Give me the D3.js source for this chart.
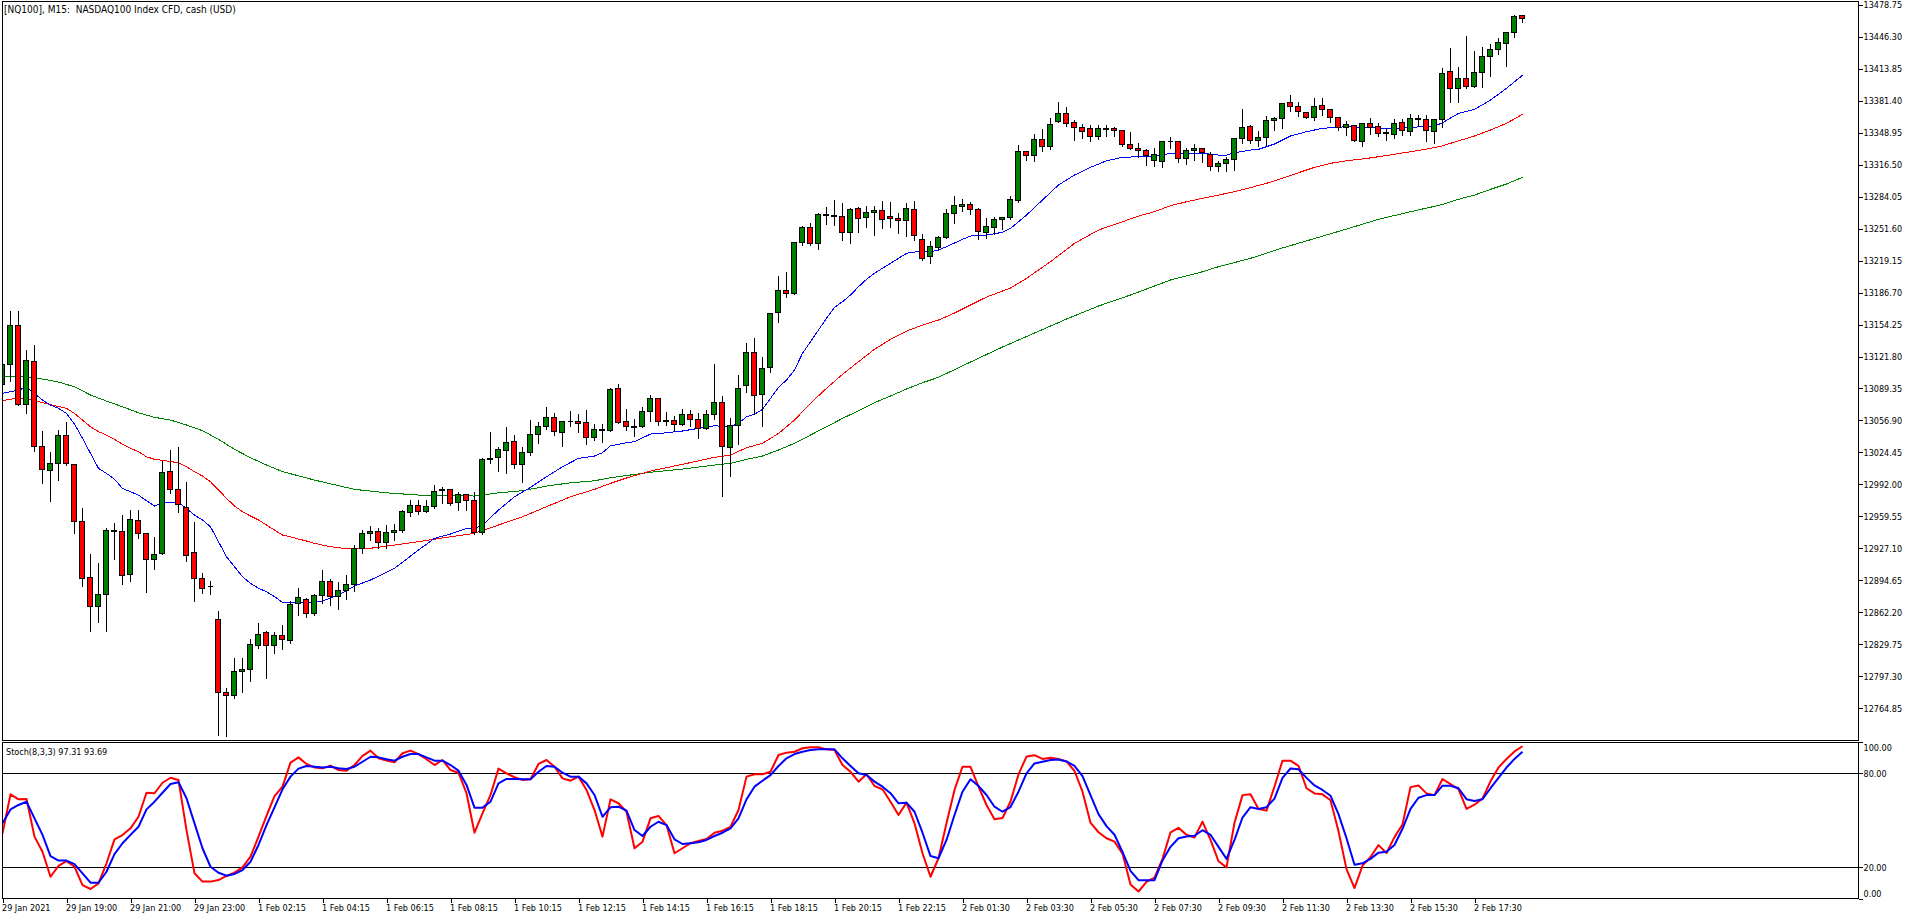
<!DOCTYPE html>
<html>
<head>
<meta charset="utf-8">
<script src="https://cdn.jsdelivr.net/npm/d3@7"></script>
<style>
	html,body{margin:0;padding:0;background:#fff;}
	svg{display:block;}
	text{font-family:'DejaVu Sans Condensed','Liberation Sans',sans-serif;font-size:9px;fill:#000;white-space:pre;}
</style>
</head>
<body>
<svg id="chart" width="1916" height="919"></svg>
<script>
const title = '[NQ100], M15:  NASDAQ100 Index CFD, cash (USD)';
const stochTitle = 'Stoch(8,3,3) 97.31 93.69';

// [open, high, low, close] per 15 min bar
const candles = [
	[13093.6,13123.3,13087.8,13113.8],[13113.8,13168.9,13097.9,13153.7],[13153.7,13168.9,13073.3,13073.3],[13073.3,13129.4,13065.1,13117.9],
	[13117.2,13134.4,13026.2,13030.9],[13030.9,13047.2,12994.1,13007.3],[13006.3,13025.9,12975.4,13013.7],[13013.7,13047.9,12997.2,13042.1],
	[13042.1,13056.0,13012.7,13013.7],[13012.7,13012.7,12943.0,12954.5],[12954.5,12969.0,12889.2,12897.0],[12897.7,12922.4,12843.5,12868.3],
	[12868.3,12913.2,12852.7,12880.8],[12880.5,12948.5,12843.5,12945.4],[12944.4,12953.5,12916.6,12945.7],[12944.7,12961.9,12891.2,12899.7],
	[12900.8,12967.0,12894.3,12956.6],[12955.9,12967.0,12938.0,12942.4],[12942.4,12942.4,12883.1,12916.0],[12916.0,12939.6,12906.4,12921.4],
	[12922.1,13016.7,12922.1,13004.3],[13005.3,13027.6,12984.3,12986.6],[12987.0,13030.9,12964.3,12971.8],[12969.0,12995.4,12915.0,12920.1],
	[12923.1,12954.8,12874.0,12896.7],[12896.7,12902.8,12882.5,12886.6],[12888.4,12894.7,12881.1,12888.2],[12855.1,12864.5,12738.7,12781.0],
	[12781.0,12786.4,12737.7,12778.0],[12778.0,12816.8,12775.5,12802.6],[12801.9,12816.8,12781.6,12804.7],[12804.3,12835.8,12793.5,12829.7],
	[12828.3,12851.6,12826.3,12840.2],[12841.5,12843.5,12795.9,12828.3],[12828.3,12842.5,12821.2,12839.2],[12839.2,12850.3,12825.3,12834.4],
	[12834.1,12874.0,12832.1,12870.6],[12871.3,12887.9,12860.2,12877.4],[12875.4,12877.4,12858.2,12861.2],[12861.2,12881.5,12859.8,12879.5],
	[12879.5,12905.8,12872.0,12894.0],[12894.0,12896.7,12870.0,12878.0],[12878.0,12893.0,12866.0,12884.0],[12884.0,12901.0,12876.0,12890.5],
	[12890.9,12931.2,12884.8,12927.1],[12926.7,12946.7,12922.6,12942.4],[12942.4,12950.5,12935.9,12944.4],[12944.4,12948.8,12927.8,12932.8],
	[12932.8,12951.8,12927.8,12943.4],[12943.4,12952.5,12935.9,12945.7],[12945.7,12966.7,12944.0,12965.0],[12963.7,12976.2,12960.2,12970.8],
	[12970.8,12976.2,12963.0,12964.3],[12964.3,12977.2,12964.3,12969.8],[12969.4,12992.4,12968.4,12985.0],[12985.6,12990.3,12974.1,12987.0],
	[12987.0,12988.0,12971.8,12972.8],[12973.8,12985.0,12967.0,12981.9],[12981.9,12983.0,12967.0,12975.9],[12975.9,12985.0,12942.4,12943.0],
	[12943.0,13019.5,12942.4,13017.5],[13017.5,13045.2,13014.0,13018.5],[13019.5,13030.2,13006.6,13027.2],[13026.6,13051.2,13003.9,13034.7],
	[13035.7,13043.1,13008.9,13012.4],[13012.4,13030.9,12995.4,13024.6],[13024.2,13058.3,13022.5,13042.8],[13042.8,13056.3,13035.0,13051.2],
	[13051.2,13071.5,13048.9,13060.4],[13060.4,13065.1,13042.8,13045.9],[13044.9,13057.3,13031.2,13056.0],[13056.3,13067.5,13051.9,13055.6],
	[13056.3,13064.4,13046.2,13054.0],[13055.0,13068.5,13033.3,13039.8],[13039.8,13054.0,13037.3,13047.9],[13047.9,13054.0,13035.3,13046.9],
	[13046.9,13090.8,13046.9,13088.5],[13089.5,13094.9,13055.0,13055.0],[13056.0,13069.2,13047.9,13050.9],[13050.9,13059.0,13041.4,13050.2],
	[13050.9,13071.2,13050.9,13066.2],[13066.2,13083.7,13056.6,13079.3],[13079.3,13080.4,13053.0,13056.0],[13056.0,13066.2,13053.0,13057.3],
	[13057.0,13062.1,13047.2,13053.0],[13053.0,13069.2,13053.0,13063.1],[13063.1,13068.5,13051.6,13058.0],[13058.0,13065.1,13039.8,13048.9],
	[13048.9,13068.5,13048.9,13063.1],[13063.1,13114.2,13059.0,13075.3],[13075.3,13082.7,12980.5,13030.6],[13029.6,13060.1,13000.8,13051.9],
	[13051.9,13104.0,13033.7,13089.5],[13092.1,13136.5,13086.1,13126.0],[13126.0,13141.5,13064.1,13082.4],[13083.4,13121.3,13051.9,13109.8],
	[13110.8,13166.6,13106.3,13165.6],[13166.6,13204.2,13157.1,13189.0],[13189.0,13208.5,13182.4,13185.9],[13185.9,13237.6,13185.9,13237.6],
	[13237.6,13255.2,13235.6,13252.9],[13252.9,13258.2,13235.6,13236.6],[13236.6,13268.4,13231.1,13266.1],[13266.1,13273.5,13256.9,13265.1],
	[13265.1,13281.6,13255.5,13264.0],[13264.0,13278.2,13240.3,13247.8],[13247.8,13273.2,13237.2,13271.1],[13272.1,13273.8,13248.4,13262.0],
	[13263.0,13275.2,13253.5,13268.1],[13268.1,13275.2,13245.4,13270.1],[13270.1,13280.3,13252.5,13261.0],[13264.0,13279.2,13253.5,13262.0],
	[13262.0,13268.1,13247.4,13260.0],[13260.0,13277.8,13244.3,13272.1],[13271.1,13280.3,13240.7,13244.7],[13240.7,13246.8,13220.0,13221.4],
	[13223.4,13239.0,13217.3,13233.6],[13232.6,13244.7,13231.6,13242.7],[13242.3,13272.4,13242.3,13267.1],[13267.1,13285.6,13257.5,13275.2],
	[13274.2,13282.6,13269.7,13276.2],[13276.2,13279.2,13266.7,13271.1],[13271.4,13273.2,13241.3,13248.4],[13247.4,13263.3,13243.0,13253.2],
	[13252.5,13264.3,13246.8,13261.3],[13261.0,13263.6,13251.4,13263.3],[13263.3,13285.3,13262.0,13280.6],[13279.9,13336.4,13278.9,13329.3],
	[13329.3,13330.6,13321.2,13325.9],[13325.9,13348.5,13320.4,13342.2],[13342.2,13353.6,13331.3,13334.6],[13334.6,13364.5,13333.0,13356.7],
	[13360.0,13381.0,13360.0,13368.5],[13368.5,13375.9,13356.0,13358.0],[13359.7,13362.0,13341.8,13354.3],[13354.3,13358.4,13344.2,13350.3],
	[13353.3,13356.7,13340.7,13345.2],[13345.2,13356.7,13343.2,13353.3],[13353.3,13357.7,13345.8,13352.6],[13353.3,13355.3,13345.8,13351.3],
	[13351.3,13352.3,13335.7,13336.7],[13337.4,13350.3,13332.6,13332.6],[13333.0,13339.1,13324.9,13331.0],[13331.0,13332.6,13317.1,13326.2],
	[13320.4,13334.0,13315.1,13326.9],[13319.8,13340.7,13314.8,13340.1],[13340.1,13344.8,13334.0,13340.4],[13340.1,13341.1,13319.4,13322.5],
	[13322.5,13334.0,13317.4,13331.0],[13331.0,13338.4,13321.5,13333.0],[13333.0,13333.0,13319.8,13329.0],[13326.9,13329.3,13311.7,13314.8],
	[13314.8,13320.4,13310.7,13317.8],[13317.8,13324.9,13310.7,13321.9],[13321.9,13343.8,13311.7,13343.2],[13343.2,13373.9,13338.7,13354.3],
	[13355.3,13357.7,13338.7,13341.1],[13340.7,13351.3,13335.7,13344.2],[13343.8,13366.8,13336.7,13361.4],[13361.4,13365.1,13351.9,13363.5],
	[13363.5,13379.7,13353.9,13378.7],[13379.7,13388.1,13371.2,13375.6],[13375.6,13381.0,13366.5,13370.2],[13369.5,13370.6,13364.5,13364.5],
	[13364.5,13384.1,13362.4,13375.6],[13376.7,13384.8,13367.5,13372.6],[13372.6,13373.6,13360.7,13364.5],[13364.5,13364.5,13352.3,13354.3],
	[13354.3,13361.4,13347.2,13357.4],[13356.4,13357.4,13341.1,13341.1],[13340.1,13358.4,13335.7,13358.4],[13358.4,13364.8,13348.2,13354.6],
	[13355.3,13359.4,13346.2,13348.2],[13348.2,13354.3,13341.8,13348.8],[13347.2,13362.8,13344.2,13358.4],[13359.4,13363.5,13347.2,13350.9],
	[13349.9,13368.5,13347.2,13363.5],[13362.8,13367.8,13356.4,13362.1],[13362.4,13367.5,13341.1,13350.9],[13350.3,13363.5,13338.7,13362.4],
	[13362.0,13415.5,13354.9,13409.1],[13411.2,13435.8,13380.3,13393.9],[13393.9,13416.5,13380.3,13404.1],[13404.1,13448.0,13394.9,13395.9],
	[13395.9,13431.8,13395.9,13410.1],[13410.1,13436.8,13396.2,13426.4],[13426.4,13438.9,13407.1,13433.5],[13433.5,13445.7,13429.4,13439.9],
	[13439.6,13450.7,13416.8,13450.7],[13450.7,13469.0,13446.7,13467.0],[13467.3,13467.3,13461.9,13464.9]
];

// moving averages, [bar, price]
const maBlue = [
	[0,13084.4],[2,13087.8],[3,13090.5],[4,13084.4],[5,13077.6],[6,13072.5],[7,13069.2],[8,13064.1],[9,13053.3],[10,13038.8],
	[11,13023.5],[12,13008.3],[13,13003.2],[14,12997.2],[15,12988.0],[16,12984.6],[17,12981.2],[18,12975.4],[19,12970.1],[20,12973.4],
	[21,12974.1],[22,12973.8],[23,12967.7],[24,12960.9],[25,12955.9],[26,12949.1],[27,12933.9],[28,12918.6],[29,12908.5],[30,12898.3],
	[31,12891.6],[32,12886.6],[33,12883.1],[34,12878.1],[35,12872.4],[36,12871.9],[38,12871.9],[40,12873.7],[42,12879.8],[44,12888.9],
	[46,12895.0],[49,12906.9],[52,12925.4],[54,12937.3],[56,12941.7],[58,12947.4],[59,12947.4],[60,12950.8],[62,12966.0],[64,12979.5],
	[66,12989.0],[68,12999.8],[70,13009.9],[72,13018.5],[74,13020.8],[75,13024.2],[76,13031.2],[78,13034.3],[79,13035.3],[81,13043.1],
	[83,13044.4],[85,13046.2],[87,13048.9],[89,13051.5],[91,13050.5],[92,13054.0],[93,13060.7],[94,13063.1],[95,13068.2],[96,13079.3],
	[97,13090.5],[98,13097.9],[99,13108.1],[100,13125.0],[101,13136.8],[102,13148.7],[103,13160.5],[104,13171.7],[105,13177.4],[106,13184.2],
	[107,13192.6],[108,13200.1],[109,13206.2],[110,13211.3],[111,13216.3],[112,13221.4],[113,13226.5],[114,13227.8],[116,13228.1],[117,13229.8],
	[118,13233.2],[120,13240.7],[121,13244.0],[123,13245.0],[125,13247.8],[126,13251.8],[128,13265.3],[130,13280.6],[132,13295.8],[134,13305.9],
	[136,13313.7],[138,13320.4],[140,13323.9],[142,13324.5],[144,13325.2],[146,13327.9],[150,13327.9],[152,13326.2],[153,13326.2],[154,13328.5],
	[156,13331.3],[157,13332.0],[159,13337.4],[160,13341.4],[161,13345.5],[163,13349.9],[165,13353.3],[168,13355.0],[172,13353.6],[174,13353.3],
	[176,13354.3],[179,13355.6],[180,13359.0],[182,13368.5],[184,13372.6],[186,13382.0],[188,13393.9],[189,13400.6],[190,13407.1]
];
const maRed = [
	[0,13076.9],[2,13080.0],[4,13076.9],[6,13072.9],[8,13069.2],[9,13064.1],[10,13057.3],[11,13050.5],[12,13045.5],[13,13042.1],
	[14,13037.8],[15,13032.7],[16,13028.6],[17,13025.2],[18,13020.1],[19,13017.5],[20,13016.4],[22,13014.0],[23,13009.9],[24,13004.9],
	[25,13000.5],[26,12994.7],[27,12986.3],[28,12977.9],[29,12970.1],[30,12964.3],[31,12959.9],[32,12955.9],[33,12950.8],[34,12945.7],
	[35,12940.6],[36,12938.9],[37,12936.6],[38,12934.6],[39,12932.2],[41,12928.8],[43,12926.8],[46,12927.2],[49,12930.5],[52,12933.9],
	[56,12938.9],[59,12942.4],[62,12950.8],[65,12959.2],[68,12969.4],[71,12979.5],[74,12987.0],[76,12993.1],[78,12998.5],[81,13005.6],
	[85,13012.4],[89,13019.5],[91,13021.8],[93,13029.2],[95,13033.7],[97,13043.8],[99,13057.3],[101,13074.3],[103,13089.5],[105,13103.7],
	[107,13116.5],[109,13129.1],[111,13139.2],[113,13147.6],[115,13153.7],[117,13158.8],[119,13165.9],[121,13174.0],[123,13182.1],[126,13191.3],
	[128,13201.1],[131,13218.0],[134,13236.6],[137,13250.1],[140,13258.5],[142,13264.3],[144,13268.7],[146,13274.8],[148,13278.8],[150,13282.3],
	[152,13285.6],[154,13289.0],[156,13293.2],[158,13297.5],[160,13302.6],[162,13308.3],[164,13313.7],[166,13317.8],[168,13320.4],[170,13322.2],
	[172,13324.5],[174,13327.0],[176,13329.6],[178,13332.3],[180,13335.4],[181,13338.1],[184,13345.5],[186,13351.6],[188,13358.4],[190,13367.5]
];
const maGreen = [
	[0,13101.3],[3,13101.3],[5,13098.9],[7,13095.9],[9,13091.1],[11,13082.7],[13,13076.6],[15,13070.8],[17,13064.7],[19,13060.1],
	[21,13057.3],[23,13052.3],[25,13046.5],[27,13037.8],[29,13027.6],[31,13019.1],[33,13011.7],[35,13004.9],[37,13000.8],[39,12996.4],
	[44,12987.0],[48,12983.5],[52,12981.2],[56,12980.9],[59,12980.2],[62,12983.5],[65,12985.6],[68,12990.3],[71,12993.7],[74,12995.7],
	[76,12998.8],[78,13001.0],[81,13004.3],[85,13007.6],[89,13011.7],[91,13013.4],[93,13017.5],[95,13020.8],[97,13026.9],[99,13033.7],
	[101,13042.1],[103,13050.5],[105,13059.0],[107,13066.8],[109,13074.9],[111,13081.7],[113,13088.8],[115,13095.2],[117,13100.7],[121,13116.2],
	[125,13131.4],[129,13145.6],[133,13159.8],[137,13173.0],[141,13184.2],[143,13190.3],[146,13199.4],[150,13207.8],[152,13212.9],[156,13221.4],
	[160,13231.9],[164,13241.5],[168,13251.1],[172,13261.0],[176,13268.7],[180,13276.0],[182,13281.3],[184,13285.6],[186,13291.4],[188,13296.8],
	[190,13303.6]
];

// stochastic %K (red) and %D (blue), one per bar
const stochMain = [
	41.7,66.6,63.4,63.6,39.6,30,14,20.9,24,20.4,8.7,6.2,9.8,22.6,37.9,40.6,44.9,52.3,67.6,67.3,
	74,77.2,75.7,43.8,16.2,10.9,10.9,11.9,14.5,16.6,20,26.8,39.6,52.8,65.5,71.5,86.8,90.2,86,83.8,
	83.2,84.9,82.1,81.7,85.3,91.1,94.5,89.6,88.1,87,92.8,94.5,92.3,89,85.3,88.5,82.1,80.4,67.3,42.1,
	54.5,66.2,83,80,77.5,75.8,76.2,86,88.5,84.2,76.8,75.3,77.9,69.4,56.6,39.6,63.4,60.9,55.5,32.2,
	36.4,51.3,52.8,47,29,32.2,35.4,36.8,38.1,42.1,43.4,45.9,56.6,77.9,79.4,79.4,81,91.7,93.2,93.8,
	96,96.6,96.6,95.3,94.9,85.3,81,74.7,79.4,71.9,69.8,61.9,53.4,61.3,48.1,29,14,25.8,48.1,69.4,
	84.2,84.2,71.5,59.8,50.7,51.5,62,79.3,90.7,91.6,89.2,89.9,89.2,87.6,81.5,68.3,48.5,42.4,38.6,36.4,
	28.8,9,4.6,10.7,13.4,25.4,42.4,45.2,40.8,39.1,49.2,37.5,23.9,20,48.5,66.1,66.6,57.3,56.2,71.6,
	88.1,88.1,84.8,70.5,67.2,66.6,62.8,43,18.9,6.8,21.1,26.6,34.2,29.2,39.3,47.4,71.2,72.3,67.2,66.1,
	76.4,73.1,69.9,57.3,60,63.9,74.9,83.7,89.2,94,97.3
];
const stochSignal = [
	48.1,57,59.8,61.9,51.3,40.7,27.2,24.3,24.3,22.1,16.2,10.2,10.2,17.2,28.5,35.4,40.7,45.9,57,61.9,
	67.6,73.2,74.3,64.1,48.1,32.2,20.4,16.6,14.7,15.8,18.3,23.6,34.3,47,58.3,69.8,77.9,83,84.7,84.2,
	83.8,84.2,83.2,82.8,84.2,87.4,90.6,90.2,89,88.1,90.6,92.3,92.3,90.2,88.1,88.1,85.3,81.7,72.6,58.1,
	58.1,61.9,73.6,76.4,76.4,76.2,76.2,81,84.7,84.2,80.4,77.9,77.9,73.6,66.2,52.3,58.3,58.7,56.2,43.8,
	40,45.9,49.1,47,37.9,34.9,35.4,36,37.5,40,42.1,44.9,51.3,63.4,71.5,75.3,78.9,84.7,89.6,92.3,
	93.8,94.9,95.3,95.3,95.3,89.6,84.7,80,78.9,74.7,71.5,67.3,60.9,61.3,55.5,42.1,27.2,25.8,37.5,53.4,
	68.3,76.2,71.9,66.2,58.7,55.5,58.5,68.3,80,86.3,87.4,88.5,88.8,87.6,84.8,78.2,66.1,54,46.3,40.8,
	29.9,17.8,11.8,11.8,11.8,24.4,33.1,38.6,39.7,40.2,43.7,40.8,33.1,25.4,37.5,51.8,58.4,57.3,58.4,63.9,
	77.1,83.1,82.6,77.1,72.3,69.4,65.7,54,38.6,21.7,22.6,25.4,29.4,29.9,34.3,44.6,57.3,64.4,66.1,66.1,
	72.1,72.1,70.5,63.5,62.4,63.5,70.5,77.1,83.7,89.2,93.7
];

const priceTicks = [13478.75,13446.30,13413.85,13381.40,13348.95,13316.50,13284.05,13251.60,13219.15,13186.70,13154.25,13121.80,
	13089.35,13056.90,13024.45,12992.00,12959.55,12927.10,12894.65,12862.20,12829.75,12797.30,12764.85];
const stochTicks = [100,80,20,0];
const stochLevels = [80,20];
const timeBars = [0,8,16,24,32,40,48,56,64,72,80,88,96,104,112,120,128,136,144,152,160,168,176,184];
const timeLabels = ['29 Jan 2021','29 Jan 19:00','29 Jan 21:00','29 Jan 23:00','1 Feb 02:15','1 Feb 04:15','1 Feb 06:15','1 Feb 08:15',
	'1 Feb 10:15','1 Feb 12:15','1 Feb 14:15','1 Feb 16:15','1 Feb 18:15','1 Feb 20:15','1 Feb 22:15','2 Feb 01:30',
	'2 Feb 03:30','2 Feb 05:30','2 Feb 07:30','2 Feb 09:30','2 Feb 11:30','2 Feb 13:30','2 Feb 15:30','2 Feb 17:30'];

const bullColor = '#008000';
const bearColor = '#ff0000';
const fontFamily = "'DejaVu Sans Condensed','Liberation Sans',sans-serif";

const svg = d3.select('#chart');
const left = 2.5, right = 1858.5;
const mainTop = 1.5, mainBottom = 740.5;
const stochTop = 742.5, stochBottom = 898.5;
const snap = v => Math.floor(v)+0.5;

const xScale = d3.scaleLinear().domain([0,candles.length-1]).range([2.5,2.5+8*(candles.length-1)]);
const yScale = d3.scaleLinear().domain([12764.85,13478.75]).range([708.3,4.7]);
const sScale = d3.scaleLinear().domain([0,100]).range([898.7,742]);

const defs = svg.append('defs');
defs.append('clipPath').attr('id','clipMain').append('rect')
	.attr('x',left+0.5).attr('y',mainTop+0.5).attr('width',right-left-1).attr('height',mainBottom-mainTop-1);
defs.append('clipPath').attr('id','clipStoch').append('rect')
	.attr('x',left+0.5).attr('y',stochTop+0.5).attr('width',right-left-1).attr('height',stochBottom-stochTop-1);

// main pane
const main = svg.append('g').attr('clip-path','url(#clipMain)');

const maLine = d3.line().x(d=>xScale(d[0])).y(d=>yScale(d[1]));
[[maGreen,'#008000'],[maRed,'#ff0000'],[maBlue,'#0000ff']].forEach(([data,color])=>{
	main.append('path')
		.attr('d',maLine(data))
		.attr('fill','none')
		.attr('stroke',color)
		.attr('stroke-width',1)
		.attr('shape-rendering','crispEdges');
});

const bars = main.selectAll('g.bar')
	.data(candles)
	.join('g')
		.classed('bar',true)
		.attr('shape-rendering','crispEdges');

bars.append('line')
	.attr('x1',(d,i)=>xScale(i))
	.attr('x2',(d,i)=>xScale(i))
	.attr('y1',d=>snap(yScale(d[1])))
	.attr('y2',d=>snap(yScale(d[2]))+1)
	.attr('stroke','#000');

bars.append('path')
	.attr('d',(d,i)=>{
		const x = xScale(i);
		const y0 = snap(yScale(Math.max(d[0],d[3])));
		const y1 = snap(yScale(Math.min(d[0],d[3])));
		return 'M'+(x-3)+','+y0+'H'+(x+2)+'V'+y1+'H'+(x-3)+'Z';
	})
	.attr('fill',d=>d[3]>=d[0] ? bullColor : bearColor)
	.attr('stroke','#000');

// stochastic pane
const stoch = svg.append('g').attr('clip-path','url(#clipStoch)');
stoch.selectAll('line.level')
	.data(stochLevels)
	.join('line')
		.classed('level',true)
		.attr('x1',left).attr('x2',right)
		.attr('y1',d=>snap(sScale(d))).attr('y2',d=>snap(sScale(d)))
		.attr('stroke','#000')
		.attr('shape-rendering','crispEdges');

const stochLine = d3.line().x((d,i)=>xScale(i)).y(d=>sScale(d));
[[stochMain,'#ff0000'],[stochSignal,'#0000ff']].forEach(([data,color])=>{
	stoch.append('path')
		.attr('d',stochLine(data))
		.attr('fill','none')
		.attr('stroke',color)
		.attr('stroke-width',2)
		.attr('stroke-linejoin','round');
});

// frames
svg.append('rect')
	.attr('x',left).attr('y',mainTop).attr('width',right-left).attr('height',mainBottom-mainTop)
	.attr('fill','none').attr('stroke','#000').attr('shape-rendering','crispEdges');
svg.append('rect')
	.attr('x',left).attr('y',stochTop).attr('width',right-left).attr('height',stochBottom-stochTop)
	.attr('fill','none').attr('stroke','#000').attr('shape-rendering','crispEdges');

// axes
const priceAxis = d3.axisRight(yScale)
	.tickValues(priceTicks)
	.tickSize(4)
	.tickPadding(1)
	.tickFormat(d=>d.toFixed(2));
const gPrice = svg.append('g')
	.attr('transform','translate('+right+',0)')
	.call(priceAxis);

const stochAxis = d3.axisRight(sScale)
	.tickValues(stochTicks)
	.tickSize(4)
	.tickPadding(1)
	.tickFormat(d=>d.toFixed(2));
const gStoch = svg.append('g')
	.attr('transform','translate('+right+',0)')
	.call(stochAxis);
gStoch.selectAll('.tick text')
	.attr('dy',d=>d==100 ? '0.95em' : (d==0 ? '-0.3em' : '0.32em'));

const timeAxis = d3.axisBottom(xScale)
	.tickValues(timeBars)
	.tickSize(4)
	.tickPadding(2)
	.tickFormat((d,i)=>timeLabels[i]);
const gTime = svg.append('g')
	.attr('transform','translate(0,'+stochBottom+')')
	.call(timeAxis);
gTime.selectAll('.tick text').attr('text-anchor','start').attr('x',-1);

[gPrice,gStoch,gTime].forEach(g=>{
	g.select('.domain').remove();
	g.selectAll('.tick line').attr('stroke','#000').attr('shape-rendering','crispEdges');
	g.selectAll('.tick text').attr('fill','#000').style('font-family',fontFamily).style('font-size','9px');
});

svg.append('text').attr('x',4).attr('y',13).style('font-size','10px').text(title);
svg.append('text').attr('x',6).attr('y',755).text(stochTitle);
</script>
</body>
</html>
